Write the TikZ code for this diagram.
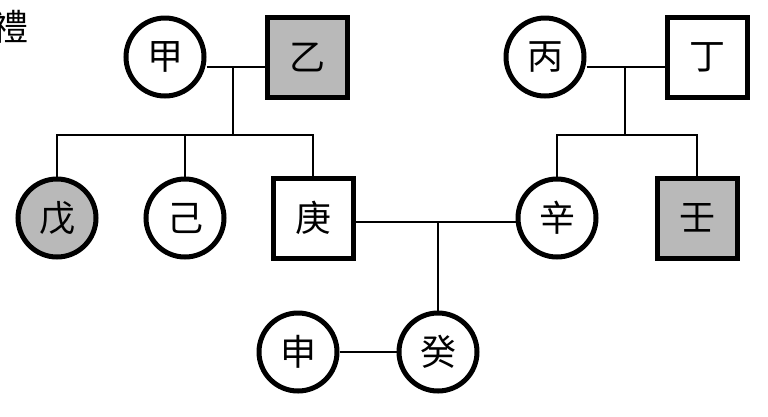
\documentclass[tikz,border=0pt]{standalone}
\usepackage{fontspec}
\newfontfamily\cjk{Noto Sans CJK TC}
\usetikzlibrary{positioning}
\tikzset{
  female/.style={circle,draw,line width=5pt,minimum size=78pt,inner sep=0pt,font=\cjk\fontsize{36}{36}\selectfont},
  male/.style={rectangle,draw,line width=5pt,minimum size=80pt,inner sep=0pt,font=\cjk\fontsize{36}{36}\selectfont},
  affected/.style={fill=gray!55},
  link/.style={line width=2.5pt}
}
\begin{document}
\begin{tikzpicture}[x=1pt,y=-1pt]
  \useasboundingbox (0,0) rectangle (768,416);
  \clip (0,0) rectangle (768,416);
  \node[font=\cjk\fontsize{36}{36}\selectfont] (title) at (10,27) {禮};
  % first generation
  \node[female] (jia) at (165,57) {甲};
  \node[male,affected] (yi) at (307,57) {乙};
  \node[female] (bing) at (545,57) {丙};
  \node[male] (ding) at (707,57) {丁};
  % second generation
  \node[female,affected] (wu) at (57,218) {戊};
  \node[female] (ji) at (185,218) {己};
  \node[male] (geng) at (313,218) {庚};
  \node[female] (xin) at (557,218) {辛};
  \node[male,affected] (ren) at (697,218) {壬};
  % third generation
  \node[female] (shen) at (298,352) {申};
  \node[female] (gui) at (438,352) {癸};
  % couples
  \coordinate (m1) at (233,67);
  \coordinate (m2) at (625,67);
  \coordinate (m3) at (438,222);
  \draw[link] (jia.east |- m1) -- (m1) -- (yi.west |- m1);
  \draw[link] (bing.east |- m2) -- (m2) -- (ding.west |- m2);
  \draw[link] (geng.east |- m3) -- (m3) -- (xin.west |- m3);
  \draw[link] (shen) -- (gui);
  % offspring
  \coordinate (s1) at (233,135);
  \coordinate (s2) at (625,135);
  \draw[link] (m1) -- (s1);
  \draw[link] (wu.north) -- (wu.north |- s1) -- (geng.north |- s1) -- (geng.north);
  \draw[link] (ji.north) -- (ji.north |- s1);
  \draw[link] (m2) -- (s2);
  \draw[link] (xin.north) -- (xin.north |- s2) -- (ren.north |- s2) -- (ren.north);
  \draw[link] (m3) -- (gui.north);
\end{tikzpicture}
\end{document}
